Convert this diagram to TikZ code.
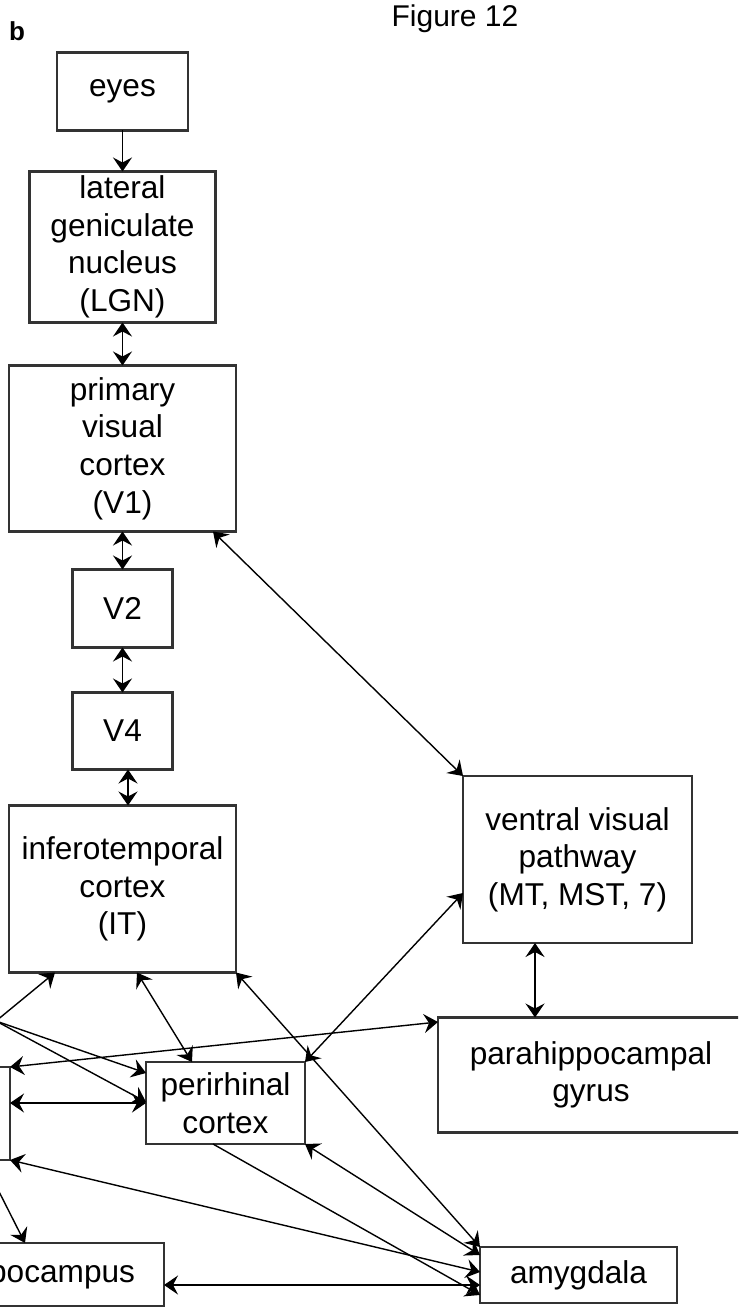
\documentclass[tikz,border=0pt]{standalone}
\usepackage{fontspec}
\setmainfont{Liberation Sans}
\usepackage{tikz}
\usetikzlibrary{arrows.meta, positioning}

\begin{document}
\begin{tikzpicture}[
            x=0.5pt, y=-0.5pt,                 % una unidad = un pixel del original
            node distance=20pt,
            block/.style={
                rectangle,
                draw=black!80,
                line width=1.4pt,
                fill=white,
                inner sep=0pt,
                outer sep=0pt,
                align=center,
                font=\fontsize{15.8}{18.8}\selectfont
            },
            line/.style={
                draw,
                -{Stealth[length=7pt, width=9.5pt, inset=2.5pt]},
                line width=0.7pt
            },
            biline/.style={
                line,
                {Stealth[length=7pt, width=9.5pt, inset=2.5pt]}-{Stealth[length=7pt, width=9.5pt, inset=2.5pt]}
            }
        ]
            \useasboundingbox (0,0) rectangle (738,1309);
            \clip (0,0) rectangle (738,1309);

            % --- TITULO ---
            \node [font=\fontsize{15}{18}\selectfont] (title) at (455,19) {Figure 12};
            \node [font=\fontsize{13}{15}\selectfont\bfseries] (panel) at (17,31) {b};

            % --- NODOS VIA VISUAL ---
            \node [block, minimum width=65.5pt, minimum height=39pt] (eyes) at (122.5,91.5) {eyes};

            \node [block, minimum width=93pt, minimum height=75.5pt, below=20.5pt of eyes] (lgn) {
                lateral\\ geniculate\\ nucleus\\ (LGN)
            };

            \node [block, minimum width=113.5pt, minimum height=83pt, below=21.5pt of lgn] (v1) {
                primary\\ visual\\ cortex\\ (V1)
            };

            \node [block, minimum width=50pt, minimum height=39pt, below=19pt of v1] (v2) {V2};

            \node [block, minimum width=50pt, minimum height=38.5pt, below=22.5pt of v2] (v4) {V4};

            \node [block, minimum width=113.5pt, minimum height=83.5pt, below=18pt of v4] (it) {
                inferotemporal\\ cortex\\ (IT)
            };

            \node [block, minimum width=114.5pt, minimum height=83.5pt] (ventral) at (577.5,859.5) {
                ventral visual\\ pathway\\ (MT, MST, 7)
            };

            % --- NODOS LOBULO TEMPORAL MEDIAL ---
            \node [block, minimum width=153pt, minimum height=57.5pt] (parahip) at (591,1075) {
                parahippocampal\\ gyrus
            };

            \node [block, minimum width=79.5pt, minimum height=41pt] (perirhinal) at (225.5,1103) {
                perirhinal\\ cortex
            };

            \node [block, minimum width=80pt, minimum height=46.5pt] (leftbox) at (-70,1113.5) {};

            \node [block, minimum width=123pt, minimum height=31.5pt] (hippo) at (41,1274.5) {hippocampus};

            \node [block, minimum width=98.5pt, minimum height=28pt] (amygdala) at (578.5,1275) {amygdala};

            \coordinate (offleft) at (-4,1021);
            \coordinate (lbfoot) at (leftbox.south -| -17,0);

            % --- ENLACES VIA VISUAL ---
            \path [line] (eyes) -- (lgn);
            \path [biline] (lgn) -- (v1);
            \path [biline] (v1) -- (v2);
            \path [biline] (v2) -- (v4);
            \path [biline] (v4.south -| 128,0) -- (it.north -| 128,0);
            \path [biline] (v1.south -| 213,0) -- (ventral.north west);
            \path [biline] (ventral.south -| 535,0) -- (parahip.north -| 535,0);

            % --- ENLACES TEMPORALES ---
            \path [biline] (perirhinal.north east) -- (ventral.west |- 0,893);
            \path [biline] (it.south -| 137,0) -- (perirhinal.north -| 192,0);
            \path [biline] (it.south east) -- (amygdala.north west);
            \path [biline] (perirhinal.south east) -- (amygdala.west |- 0,1255);
            \path [line] (perirhinal.south -| 213,0) -- (amygdala.west |- 0,1295);
            \path [biline] (leftbox.south east) -- (amygdala.west |- 0,1272);
            \path [biline] (leftbox.east |- perirhinal.west) -- (perirhinal.west);
            \path [biline] (leftbox.north east) -- (parahip.west |- 0,1022);
            \path [biline] (hippo.east |- 0,1285) -- (amygdala.west |- 0,1285);
            \path [line] (lbfoot) -- (hippo.north -| 25,0);
            \path [line] (offleft) -- (it.south -| 55,0);
            \path [line] (offleft) -- (perirhinal.west |- 0,1073);
            \path [line] (offleft) -- (perirhinal.west |- 0,1102);
        \end{tikzpicture}
\end{document}
